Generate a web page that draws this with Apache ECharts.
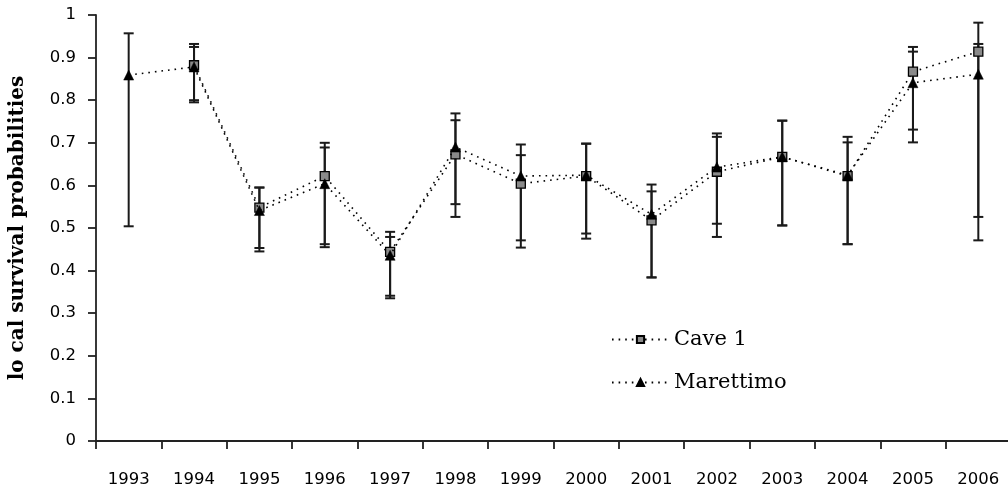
<!DOCTYPE html>
<html>
<head>
<meta charset="utf-8">
<style>
  html, body { margin: 0; padding: 0; background: #fff; }
  #chart { width: 1008px; height: 491px; }
</style>
<script src="https://cdn.jsdelivr.net/npm/echarts@6/dist/echarts.min.js"></script>
</head>
<body>
<div id="chart"></div>
<script>
// Survey years
const years = ['1993','1994','1995','1996','1997','1998','1999','2000','2001','2002','2003','2004','2005','2006'];

// Local survival estimates
const cave1 = [null, 0.882, 0.548, 0.622, 0.444, 0.673, 0.604, 0.622, 0.518, 0.632, 0.667, 0.622, 0.867, 0.914];
const marettimo = [0.859, 0.878, 0.541, 0.604, 0.436, 0.690, 0.622, 0.624, 0.532, 0.643, 0.667, 0.624, 0.841, 0.861];

// Confidence limits (lower, upper)
const cave1Low  = [null, 0.800, 0.453, 0.462, 0.341, 0.526, 0.454, 0.487, 0.384, 0.479, 0.506, 0.462, 0.731, 0.526];
const cave1High = [null, 0.932, 0.595, 0.700, 0.491, 0.753, 0.671, 0.698, 0.586, 0.714, 0.752, 0.714, 0.925, 0.982];
const marLow    = [0.504, 0.795, 0.445, 0.455, 0.335, 0.556, 0.471, 0.475, 0.384, 0.510, 0.506, 0.462, 0.701, 0.471];
const marHigh   = [0.957, 0.925, 0.595, 0.689, 0.479, 0.769, 0.696, 0.698, 0.602, 0.722, 0.752, 0.701, 0.914, 0.932];

// Y axis ticks
const yMin = 0, yMax = 1, yStep = 0.1;

function errorRows(low, high) {
  const rows = [];
  for (let i = 0; i < years.length; i++) {
    if (low[i] != null && high[i] != null) rows.push([i, low[i], high[i]]);
  }
  return rows;
}

function renderErrorBar(params, api) {
  const x = api.value(0);
  const lo = api.coord([x, api.value(1)]);
  const hi = api.coord([x, api.value(2)]);
  const half = 5;
  const style = { stroke: '#1a1a1a', lineWidth: 2, fill: null };
  return {
    type: 'group',
    children: [
      { type: 'line', shape: { x1: lo[0], y1: lo[1], x2: hi[0], y2: hi[1] }, style },
      { type: 'line', shape: { x1: lo[0] - half, y1: lo[1], x2: lo[0] + half, y2: lo[1] }, style },
      { type: 'line', shape: { x1: hi[0] - half, y1: hi[1], x2: hi[0] + half, y2: hi[1] }, style }
    ]
  };
}

const chart = echarts.init(document.getElementById('chart'), null, { renderer: 'canvas' });

const dotted = { color: '#000', width: 1.6, type: [1.6, 5] };

chart.setOption({
  animation: false,
  backgroundColor: '#fff',
  grid: { left: 96, top: 15, width: 915, height: 426, containLabel: false, outerBoundsMode: 'none' },
  legend: {
    orient: 'vertical',
    left: 606,
    top: 324,
    itemWidth: 57,
    itemHeight: 9,
    itemGap: 22,
    textStyle: { fontFamily: 'DejaVu Serif', fontSize: 21, color: '#000' },
    data: ['Cave 1', 'Marettimo']
  },
  xAxis: {
    type: 'category',
    data: years,
    boundaryGap: true,
    axisLine: { lineStyle: { color: '#222', width: 1.8 } },
    axisTick: { show: true, length: 8, inside: false, lineStyle: { color: '#222', width: 1.8 } },
    axisLabel: { interval: 0, margin: 30, color: '#000', fontFamily: 'DejaVu Sans', fontSize: 16.5 },
    splitLine: { show: false }
  },
  yAxis: {
    type: 'value',
    min: yMin,
    max: yMax,
    interval: yStep,
    name: 'lo cal survival probabilities',
    nameLocation: 'middle',
    nameGap: 68,
    nameTextStyle: { fontFamily: 'DejaVu Serif', fontWeight: 'bold', fontSize: 20, color: '#000' },
    axisLine: { show: true, lineStyle: { color: '#222', width: 1.8 } },
    axisTick: { show: true, length: 8, inside: false, lineStyle: { color: '#222', width: 1.8 } },
    axisLabel: { margin: 20, color: '#000', fontFamily: 'DejaVu Sans', fontSize: 16.5 },
    splitLine: { show: false }
  },
  series: [
    {
      name: 'Cave 1 CI',
      type: 'custom',
      renderItem: renderErrorBar,
      data: errorRows(cave1Low, cave1High),
      encode: { x: 0, y: [1, 2] },
      z: 1,
      silent: true
    },
    {
      name: 'Marettimo CI',
      type: 'custom',
      renderItem: renderErrorBar,
      data: errorRows(marLow, marHigh),
      encode: { x: 0, y: [1, 2] },
      z: 1,
      silent: true
    },
    {
      name: 'Cave 1',
      type: 'line',
      data: cave1,
      symbol: 'rect',
      symbolSize: 9,
      showAllSymbol: true,
      lineStyle: dotted,
      itemStyle: { color: '#8a8a8a', borderColor: '#000', borderWidth: 1.3 },
      z: 3
    },
    {
      name: 'Marettimo',
      type: 'line',
      data: marettimo,
      symbol: 'triangle',
      symbolSize: 10,
      showAllSymbol: true,
      lineStyle: dotted,
      itemStyle: { color: '#000', borderColor: '#000', borderWidth: 0.5 },
      z: 4
    }
  ]
});
</script>
</body>
</html>
